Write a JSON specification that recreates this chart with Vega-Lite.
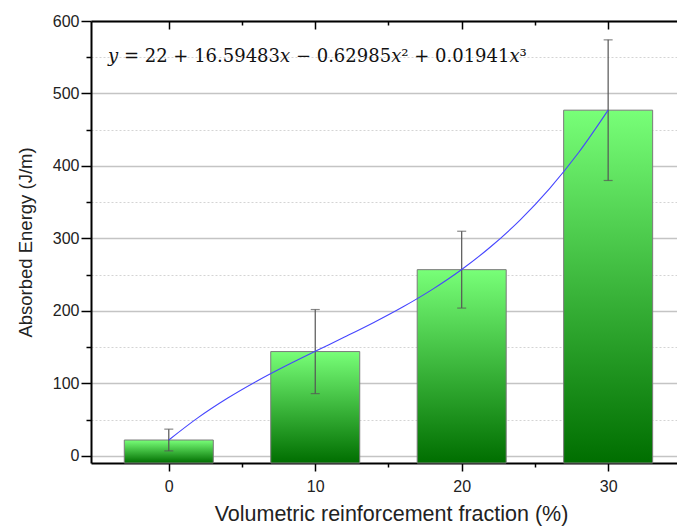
{
  "$schema": "https://vega.github.io/schema/vega-lite/v6.json",
  "width": 586,
  "height": 442,
  "autosize": {"type": "none"},
  "padding": {"left": 91, "top": 21, "right": 0, "bottom": 65},
  "background": "white",
  "config": {
    "view": {"stroke": null},
    "axis": {
      "labelFont": "Liberation Sans",
      "titleFont": "Liberation Sans",
      "labelColor": "#222222",
      "titleColor": "#222222",
      "titleFontWeight": "normal",
      "domainColor": "#000000",
      "tickColor": "#000000",
      "tickWidth": 1.5,
      "domainWidth": 2
    }
  },
  "datasets": {
    "bars": [
      {"fraction": 0, "energy": 22, "low": 7, "high": 37},
      {"fraction": 10, "energy": 144, "low": 86, "high": 202},
      {"fraction": 20, "energy": 257, "low": 204, "high": 310},
      {"fraction": 30, "energy": 477, "low": 380, "high": 574}
    ],
    "fit": [
      {"fraction": 0, "energy": 22.0},
      {"fraction": 2, "energy": 52.83},
      {"fraction": 4, "energy": 79.54},
      {"fraction": 6, "energy": 103.09},
      {"fraction": 8, "energy": 124.39},
      {"fraction": 10, "energy": 144.37},
      {"fraction": 12, "energy": 163.98},
      {"fraction": 14, "energy": 184.14},
      {"fraction": 16, "energy": 205.78},
      {"fraction": 18, "energy": 229.84},
      {"fraction": 20, "energy": 257.24},
      {"fraction": 22, "energy": 288.92},
      {"fraction": 24, "energy": 325.81},
      {"fraction": 26, "energy": 368.84},
      {"fraction": 28, "energy": 418.94},
      {"fraction": 30, "energy": 477.05}
    ],
    "note": [
      {"label": "𝑦 = 22 + 16.59483𝑥 − 0.62985𝑥² + 0.01941𝑥³"}
    ]
  },
  "resolve": {"axis": {"x": "independent", "y": "independent"}},
  "layer": [
    {
      "data": {"name": "bars"},
      "mark": {
        "type": "bar",
        "width": 89,
        "stroke": "#7a7a7a",
        "strokeWidth": 1,
        "color": {
          "gradient": "linear",
          "x1": 0, "y1": 0, "x2": 0, "y2": 1,
          "stops": [
            {"offset": 0, "color": "#78ff78"},
            {"offset": 1, "color": "#006e00"}
          ]
        }
      },
      "encoding": {
        "x": {
          "field": "fraction",
          "type": "quantitative",
          "scale": {"domain": [-4.97, 34.36], "nice": false, "zero": false},
          "axis": {
            "orient": "bottom",
            "values": [0, 10, 20, 30],
            "tickSize": 8,
            "labelFontSize": 16,
            "labelPadding": 7,
            "grid": false,
            "title": "Volumetric reinforcement fraction (%)",
            "titleFontSize": 21.5,
            "titlePadding": 9,
            "titleX": 300
          }
        },
        "y": {
          "field": "energy",
          "type": "quantitative",
          "scale": {"domain": [-9.7, 600], "nice": false, "zero": false},
          "axis": {
            "orient": "left",
            "values": [0, 100, 200, 300, 400, 500, 600],
            "tickSize": 10,
            "labelFontSize": 16,
            "labelPadding": 2,
            "grid": true,
            "gridColor": "#c4c4c4",
            "gridWidth": 1.5,
            "title": "Absorbed Energy (J/m)",
            "titleFontSize": 18.5,
            "titlePadding": 17
          }
        },
        "y2": {"datum": -9.7}
      }
    },
    {
      "data": {"name": "bars"},
      "mark": {"type": "rule", "color": "#555555", "strokeWidth": 1.2},
      "encoding": {
        "x": {
          "field": "fraction",
          "type": "quantitative",
          "axis": {
            "orient": "bottom",
            "values": [5, 15, 25],
            "tickSize": 4,
            "labels": false,
            "domain": false,
            "grid": false,
            "title": null
          }
        },
        "y": {
          "field": "low",
          "type": "quantitative",
          "axis": {
            "orient": "left",
            "values": [50, 150, 250, 350, 450, 550],
            "tickSize": 5,
            "labels": false,
            "domain": false,
            "grid": true,
            "gridColor": "#d4d4d4",
            "gridDash": [2, 2],
            "gridWidth": 1,
            "title": null
          }
        },
        "y2": {"field": "high"}
      }
    },
    {
      "data": {"name": "bars"},
      "mark": {"type": "tick", "orient": "horizontal", "color": "#555555", "size": 9, "thickness": 1.2},
      "encoding": {
        "x": {
          "field": "fraction",
          "type": "quantitative",
          "axis": {
            "orient": "top",
            "values": [0, 10, 20, 30],
            "tickSize": -8,
            "labels": false,
            "domain": true,
            "grid": false,
            "title": null
          }
        },
        "y": {"field": "low", "type": "quantitative", "axis": null}
      }
    },
    {
      "data": {"name": "bars"},
      "mark": {"type": "tick", "orient": "horizontal", "color": "#555555", "size": 9, "thickness": 1.2},
      "encoding": {
        "x": {
          "field": "fraction",
          "type": "quantitative",
          "axis": {
            "orient": "top",
            "values": [5, 15, 25],
            "tickSize": -4,
            "labels": false,
            "domain": false,
            "grid": false,
            "title": null
          }
        },
        "y": {"field": "high", "type": "quantitative", "axis": null}
      }
    },
    {
      "data": {"name": "fit"},
      "mark": {"type": "line", "color": "#4646ff", "strokeWidth": 1.1, "interpolate": "monotone"},
      "encoding": {
        "x": {"field": "fraction", "type": "quantitative", "axis": null},
        "y": {"field": "energy", "type": "quantitative", "axis": null}
      }
    },
    {
      "data": {"name": "note"},
      "mark": {
        "type": "text",
        "align": "left",
        "baseline": "middle",
        "font": "DejaVu Serif",
        "fontSize": 18,
        "color": "#111111"
      },
      "encoding": {
        "x": {"datum": -4.15, "type": "quantitative", "axis": null},
        "y": {"datum": 551, "type": "quantitative", "axis": null},
        "text": {"field": "label"}
      }
    }
  ]
}
